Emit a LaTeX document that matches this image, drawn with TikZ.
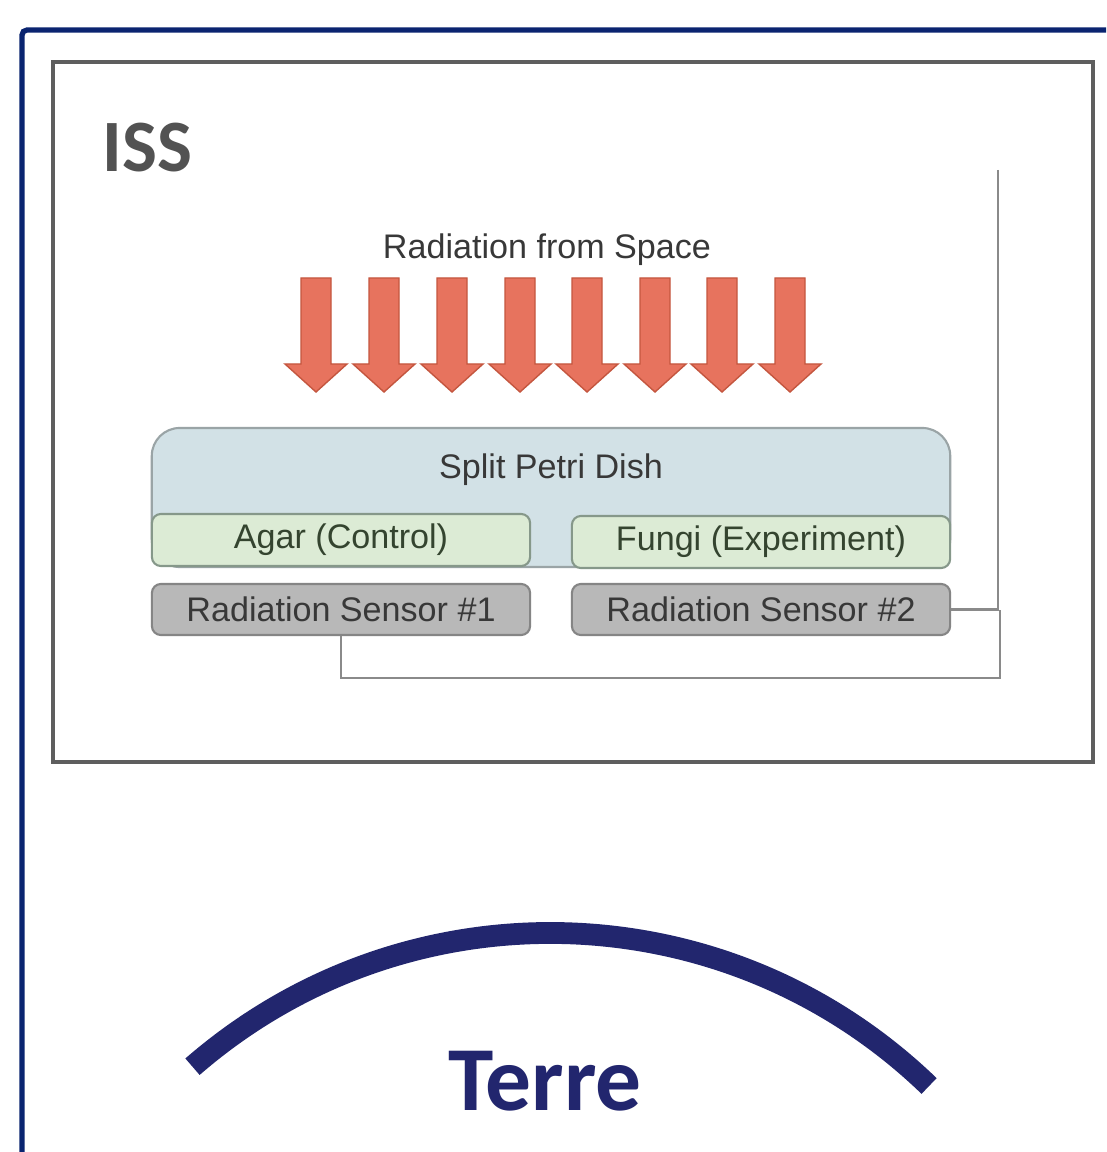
\documentclass[tikz,border=0pt]{standalone}
\usepackage{fontspec}
\setmainfont{Liberation Sans}
\newfontfamily\headfont{Carlito}
\usetikzlibrary{positioning}

\definecolor{frameblue}{HTML}{0A2470}
\definecolor{earthblue}{HTML}{22266E}
\definecolor{boxgray}{HTML}{5E5E5E}
\definecolor{dishfill}{HTML}{D2E1E6}
\definecolor{dishline}{HTML}{9AA4A6}
\definecolor{agarfill}{HTML}{DCEBD5}
\definecolor{agarline}{HTML}{86988A}
\definecolor{agartext}{HTML}{34442F}
\definecolor{sensfill}{HTML}{B8B8B8}
\definecolor{sensline}{HTML}{858585}
\definecolor{rayfill}{HTML}{E7735E}
\definecolor{rayline}{HTML}{C4563F}
\definecolor{wiregray}{HTML}{8A8A8A}

\begin{document}
\begin{tikzpicture}[x=0.01cm, y=-0.01cm,
  txt/.style={font=\fontsize{9.7}{11}\selectfont, text=black!78},
  petri/.style={draw=dishline, fill=dishfill, line width=0.6pt, rounded corners=0.28cm,
    minimum width=7.98cm, minimum height=1.39cm, inner sep=0pt},
  medium/.style={draw=agarline, fill=agarfill, line width=0.6pt, rounded corners=0.09cm,
    minimum width=3.78cm, minimum height=0.52cm, inner sep=0pt, txt, text=agartext},
  sensor/.style={draw=sensline, fill=sensfill, line width=0.6pt, rounded corners=0.09cm,
    minimum width=3.78cm, minimum height=0.51cm, inner sep=0pt, txt},
  wire/.style={draw=wiregray, line width=0.6pt},
  ray/.style={fill=rayfill, draw=rayline, line width=0.4pt}]
\useasboundingbox[fill=white] (0,0) rectangle (1106,1152);
\draw[frameblue, line width=1.5pt, rounded corners=0.05cm] (1106,30) -- (22,30) -- (22,1152);
\draw[boxgray, line width=1.2pt] (53,62) rectangle (1093,762);
\node[anchor=base west, font=\headfont\bfseries\fontsize{21}{24}\selectfont, text=black!68] (iss) at (90,172) {ISS};

\node[txt, anchor=base] (space) at (547,259) {Radiation from Space};
\foreach \cx in {316,384,452,520,587,655,722,790}
  \draw[ray] (\cx-15,278) -- (\cx+15,278) -- (\cx+15,364) -- (\cx+31,364)
    -- (\cx,392) -- (\cx-31,364) -- (\cx-15,364) -- cycle;

\node[petri] (dish) at (551,497.5) {};
\node[txt, anchor=base] (dishlabel) at (551,478) {Split Petri Dish};
\node[medium] (agar) at (341,540) {Agar (Control)};
\node[medium] (fungi) at (761,542) {Fungi (Experiment)};
\node[sensor] (s1) at (341,609.5) {Radiation Sensor \#1};
\node[sensor] (s2) at (761,609.5) {Radiation Sensor \#2};

\coordinate (feed) at (998,170);
\coordinate (jct) at (1000,609.5);
\draw[wire] (feed) |- (s2.east);
\draw[wire] (s1.south) -- ++(0,42) -| (jct);

\draw[earthblue, line width=6.2pt] (192.5,1066.7) arc[start angle=131, end angle=46, radius=5.45cm];
\node[anchor=base, font=\headfont\bfseries\fontsize{26}{30}\selectfont, text=earthblue] (terre) at (545,1110) {Terre};
\end{tikzpicture}
\end{document}
